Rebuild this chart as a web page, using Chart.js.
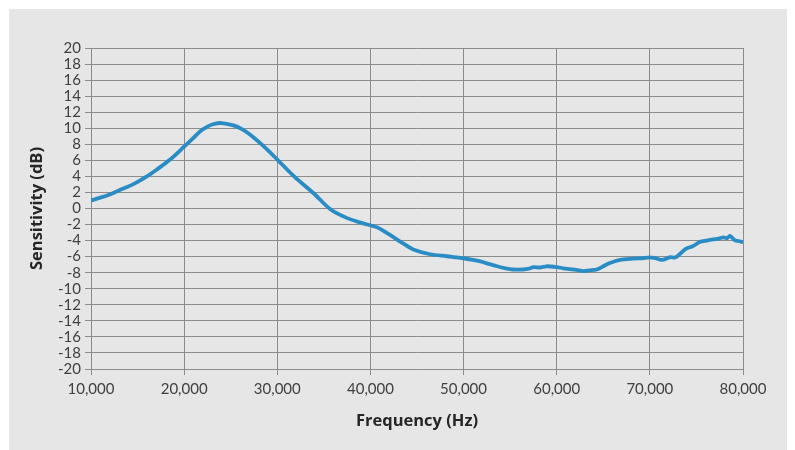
<!DOCTYPE html>
<html>
<head>
<meta charset="utf-8">
<script src="https://cdn.jsdelivr.net/npm/chart.js@4"></script>
<style>
  html, body { margin: 0; padding: 0; background: #ffffff; }
  #panel { position: absolute; left: 9px; top: 9px; width: 778px; height: 441px; background: #e6e6e6; }
</style>
</head>
<body>
<div id="panel"><canvas id="sensChart" width="778" height="441"></canvas></div>
<script>
// frequency (Hz) and sensitivity (dB)
const freq = [10000, 11000, 12000, 13000, 14500, 16000, 17000, 18500, 20000, 21000, 21700, 22500, 23100, 24000, 25300, 26200, 27100, 28500, 30000, 31800, 33900, 35700, 37500, 39200, 40700, 42100, 43500, 44600, 46400, 48200, 50000, 51000, 51800, 52700, 53600, 54500, 55300, 56400, 57000, 57500, 58200, 58900, 60000, 60700, 61400, 62100, 62900, 63500, 64300, 65000, 65700, 66800, 68200, 69200, 70000, 70600, 71300, 72200, 72700, 73200, 73900, 74600, 75400, 76100, 76800, 77400, 77900, 78300, 78600, 79100, 79500, 80000];
const sens = [1.0, 1.35, 1.75, 2.25, 3.0, 4.0, 4.8, 6.1, 7.7, 8.8, 9.6, 10.2, 10.5, 10.65, 10.35, 9.9, 9.2, 7.8, 6.1, 4.0, 1.9, -0.1, -1.2, -1.85, -2.35, -3.3, -4.35, -5.1, -5.7, -5.95, -6.2, -6.4, -6.6, -6.9, -7.2, -7.45, -7.6, -7.6, -7.5, -7.3, -7.35, -7.2, -7.3, -7.45, -7.55, -7.65, -7.8, -7.7, -7.6, -7.2, -6.8, -6.4, -6.25, -6.2, -6.1, -6.2, -6.4, -6.05, -6.1, -5.7, -5.0, -4.7, -4.15, -4.0, -3.85, -3.75, -3.6, -3.7, -3.4, -3.95, -4.05, -4.2];

const points = freq.map((f, i) => ({ x: f, y: sens[i] }));
const gridColor = '#8c8c8c';
const tickFont = { family: 'Lato', size: 15 };
const titleFont = { family: 'Open Sans', size: 16.5, weight: 'bold' };

new Chart(document.getElementById('sensChart'), {
  type: 'line',
  data: {
    datasets: [{
      data: points,
      borderColor: '#2a8cc4',
      borderWidth: 3.8,
      pointRadius: 0,
      tension: 0.3,
      fill: false
    }]
  },
  options: {
    responsive: false,
    animation: false,
    layout: { padding: { top: 39, right: 44, left: 0, bottom: 0 } },
    plugins: { legend: { display: false }, tooltip: { enabled: false } },
    scales: {
      x: {
        type: 'linear',
        min: 10000,
        max: 80000,
        afterFit: s => { s.height = 81; },
        ticks: {
          stepSize: 10000,
          color: '#404040',
          font: tickFont,
          padding: 5,
          maxRotation: 0,
          autoSkip: false,
          callback: v => v.toLocaleString('en-US')
        },
        grid: { color: gridColor, lineWidth: 1, tickLength: 6 },
        border: { color: gridColor },
        title: { display: true, text: 'Frequency (Hz)', color: '#262626', font: titleFont, padding: { top: 0, bottom: 19 } }
      },
      y: {
        min: -20,
        max: 20,
        afterFit: s => { s.width = 82; },
        ticks: { stepSize: 2, color: '#404040', font: tickFont, padding: 4, autoSkip: false },
        grid: { color: gridColor, lineWidth: 1, tickLength: 6 },
        border: { color: gridColor },
        title: { display: true, text: 'Sensitivity (dB)', color: '#262626', font: titleFont, padding: { top: 18, bottom: 0 } }
      }
    }
  }
});
</script>
</body>
</html>
